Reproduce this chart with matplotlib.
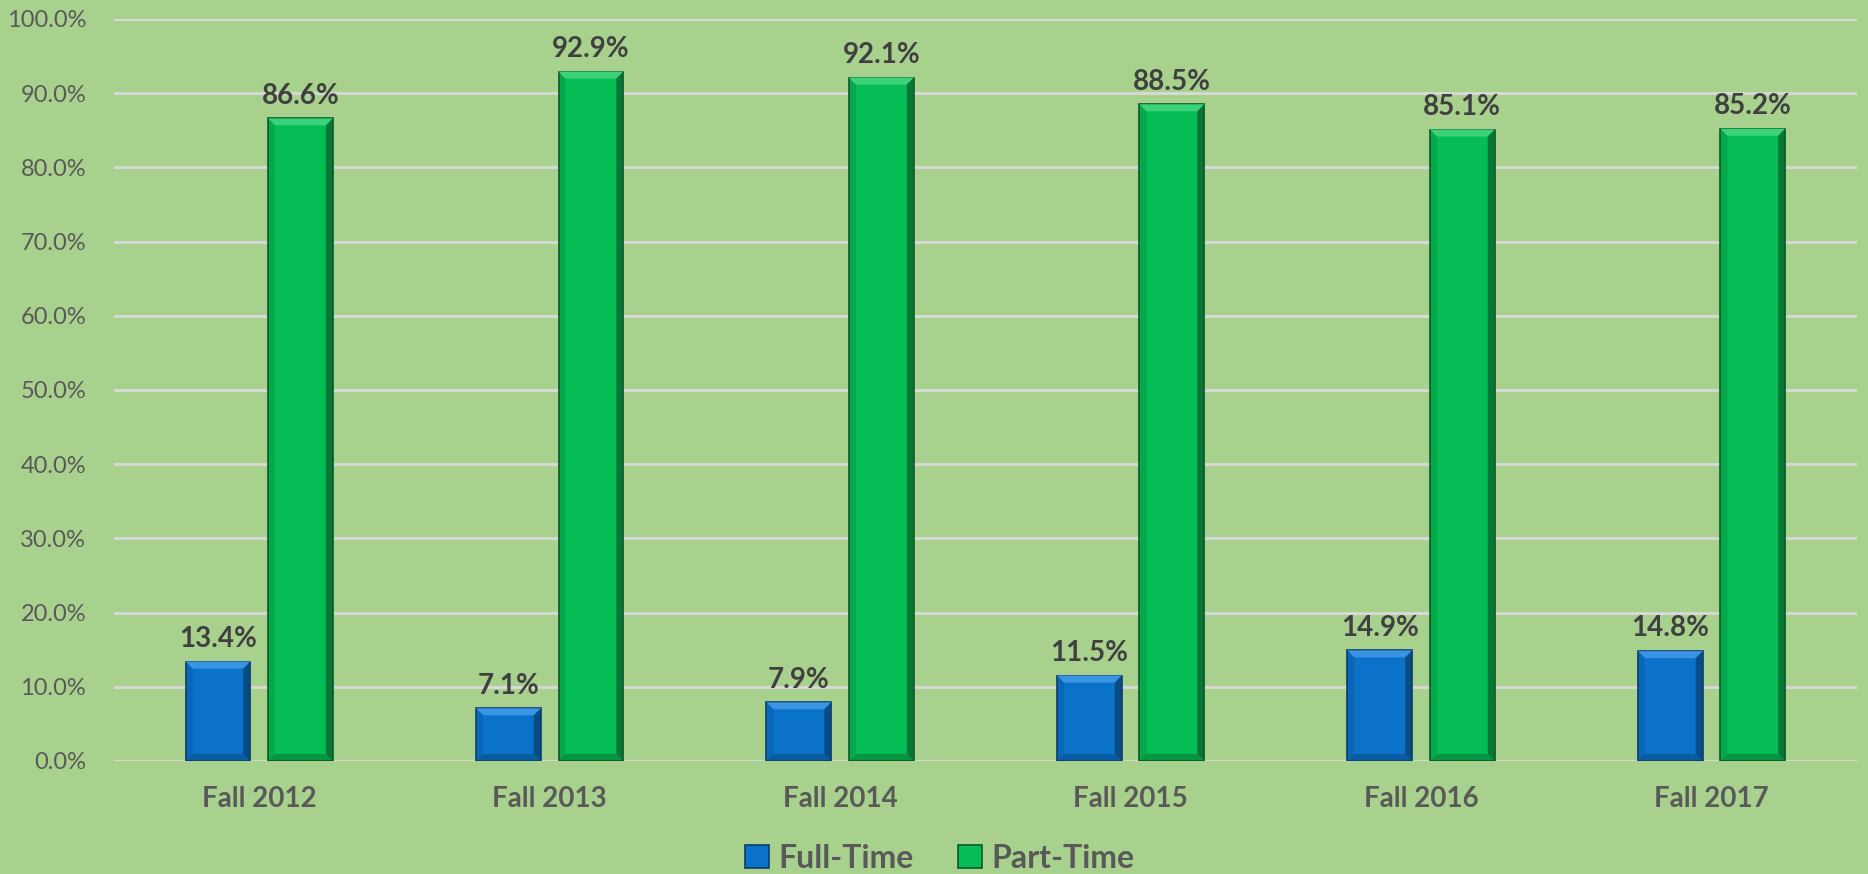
import matplotlib.pyplot as plt
import numpy as np
from matplotlib.patches import Polygon
from matplotlib.ticker import FuncFormatter

# ---------------------------------------------------------------
# Data
# ---------------------------------------------------------------
terms = ["Fall 2012", "Fall 2013", "Fall 2014", "Fall 2015", "Fall 2016", "Fall 2017"]
full_time = [13.4, 7.1, 7.9, 11.5, 14.9, 14.8]
part_time = [86.6, 92.9, 92.1, 88.5, 85.1, 85.2]

BG = "#A9D18E"
TXT = "#595959"
LBL = "#404040"
plt.rcParams["font.family"] = ["Lato", "DejaVu Sans"]

# colours: face, light top, dark edge
BLUE = ("#0A72C8", "#3A94E4", "#0B3D6B")
GREEN = ("#06BC55", "#3CD27A", "#0A5A2A")

fig = plt.figure(figsize=(18.68, 8.74), dpi=100, facecolor=BG)
ax = fig.add_axes([0.061, 0.1293, 0.933, 0.849], facecolor=BG)

x = np.arange(len(terms))
off = 0.142
w = 0.223
b1 = ax.bar(x - off, full_time, w, color=BLUE[0], edgecolor=BLUE[2], linewidth=1.2,
            label="Full-Time", zorder=3)
b2 = ax.bar(x + off, part_time, w, color=GREEN[0], edgecolor=GREEN[2], linewidth=1.2,
            label="Part-Time", zorder=3)

ax.set_xlim(-0.5, len(terms) - 0.5)
ax.set_ylim(0, 100)
ax.set_yticks(np.arange(0, 101, 10))
ax.yaxis.set_major_formatter(FuncFormatter(lambda v, _: f"{v:.1f}%"))
ax.set_xticks(x)
ax.set_xticklabels(terms, fontsize=20, fontweight="bold", color=TXT)
ax.tick_params(axis="y", length=0, pad=20, labelsize=17, labelcolor=TXT)
ax.tick_params(axis="x", length=0, pad=18)
ax.grid(axis="y", color="#D9D9D9", linewidth=2, zorder=0)
for s in ax.spines.values():
    s.set_visible(False)


# simple bevel: light band on top, dark band on right/bottom, in pixel units
def bevel(bars, cols, px=7):
    inv = ax.transData.inverted()
    for r in bars:
        x0, y0 = r.get_x(), r.get_y()
        x1, y1 = x0 + r.get_width(), y0 + r.get_height()
        (dx0, dy0), (dx1, dy1) = ax.transData.transform([(x0, y0), (x1, y1)])
        def d(px_, py_):
            return inv.transform((px_, py_))
        top = [d(dx0, dy1), d(dx1, dy1), d(dx1 - px, dy1 - px), d(dx0 + px, dy1 - px)]
        right = [d(dx1, dy1), d(dx1, dy0), d(dx1 - px, dy0 + px), d(dx1 - px, dy1 - px)]
        bot = [d(dx0, dy0), d(dx1, dy0), d(dx1 - px, dy0 + px), d(dx0 + px, dy0 + px)]
        left = [d(dx0, dy0), d(dx0, dy1), d(dx0 + px, dy1 - px), d(dx0 + px, dy0 + px)]
        ax.add_patch(Polygon(top, closed=True, color=cols[1], zorder=4, lw=0))
        ax.add_patch(Polygon(right, closed=True, color=cols[2], alpha=0.7, zorder=4, lw=0))
        ax.add_patch(Polygon(bot, closed=True, color=cols[2], alpha=0.4, zorder=4, lw=0))
        ax.add_patch(Polygon(left, closed=True, color=cols[2], alpha=0.2, zorder=4, lw=0))


bevel(b1, BLUE)
bevel(b2, GREEN)

for bars in (b1, b2):
    for r in bars:
        h = r.get_height()
        ax.annotate(f"{h:.1f}%", (r.get_x() + r.get_width() / 2, h),
                    xytext=(0, 7), textcoords="offset points", ha="center", va="bottom",
                    fontsize=20, fontweight="bold", color=LBL, zorder=5)

leg = fig.legend(handles=[b1, b2], loc="center", bbox_to_anchor=(0.503, 0.018),
                 ncol=2, frameon=False, prop={"size": 23, "weight": "bold"},
                 handlelength=0.75, handleheight=0.75, handletextpad=0.3, columnspacing=1.4)
for t in leg.get_texts():
    t.set_color(TXT)

fig.savefig("out.png", dpi=100, facecolor=BG)
